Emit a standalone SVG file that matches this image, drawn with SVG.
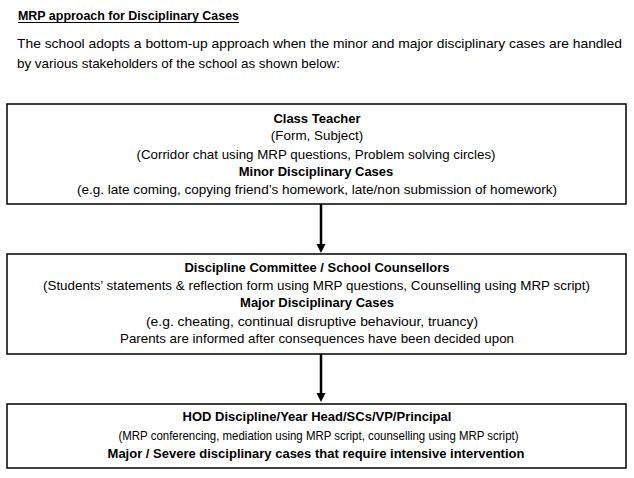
<svg xmlns="http://www.w3.org/2000/svg" width="634" height="478" viewBox="0 0 634 478">
<style>
text{font-family:"Liberation Sans",Arial,sans-serif;font-size:13.4px;fill:#000}
.b{font-weight:bold;font-size:13px}
.c{text-anchor:middle}
.s{font-size:12.2px}
.box{fill:#fff;stroke:#000;stroke-width:1.5}
.conn{stroke:#000;stroke-width:2.5;fill:none}
.head{fill:#000}
</style>
<rect width="634" height="478" fill="#fff"/>
<g id="header">
<text x="18" y="20" class="b" textLength="221" lengthAdjust="spacingAndGlyphs">MRP approach for Disciplinary Cases</text>
<line x1="18" y1="22.5" x2="239" y2="22.5" stroke="#000" stroke-width="1.2"/>
<text x="17" y="48" textLength="605" lengthAdjust="spacingAndGlyphs">The school adopts a bottom-up approach when the minor and major disciplinary cases are handled</text>
<text x="17" y="68" textLength="323" lengthAdjust="spacingAndGlyphs">by various stakeholders of the school as shown below:</text>
</g>
<g id="connectors">
<line class="conn" x1="321" y1="204" x2="321" y2="245"/>
<polygon class="head" points="316.5,244 325.5,244 321,253"/>
<line class="conn" x1="321" y1="354" x2="321" y2="394"/>
<polygon class="head" points="316.5,393 325.5,393 321,402"/>
</g>
<g id="node-class-teacher">
<rect class="box" x="7" y="104" width="619" height="100"/>
<text x="317" y="123" class="b c">Class Teacher</text>
<text x="317" y="140" class="c">(Form, Subject)</text>
<text x="316" y="159" class="c" textLength="359" lengthAdjust="spacingAndGlyphs">(Corridor chat using MRP questions, Problem solving circles)</text>
<text x="316" y="176" class="b c">Minor Disciplinary Cases</text>
<text x="317" y="194" class="c" textLength="480" lengthAdjust="spacingAndGlyphs">(e.g. late coming, copying friend’s homework, late/non submission of homework)</text>
</g>
<g id="node-discipline-committee">
<rect class="box" x="7" y="254" width="619" height="100"/>
<text x="317" y="272" class="b c">Discipline Committee / School Counsellors</text>
<text x="316.5" y="290" class="c" textLength="547" lengthAdjust="spacingAndGlyphs">(Students’ statements &amp; reflection form using MRP questions, Counselling using MRP script)</text>
<text x="317" y="307" class="b c">Major Disciplinary Cases</text>
<text x="312" y="326" class="c" textLength="332" lengthAdjust="spacingAndGlyphs">(e.g. cheating, continual disruptive behaviour, truancy)</text>
<text x="317" y="343" class="c" textLength="394" lengthAdjust="spacingAndGlyphs">Parents are informed after consequences have been decided upon</text>
</g>
<g id="node-hod">
<rect class="box" x="7" y="404" width="619" height="64"/>
<text x="317" y="421" class="b c">HOD Discipline/Year Head/SCs/VP/Principal</text>
<text x="318.5" y="440" class="c s" textLength="400" lengthAdjust="spacingAndGlyphs">(MRP conferencing, mediation using MRP script, counselling using MRP script)</text>
<text x="316" y="458" class="b c">Major / Severe disciplinary cases that require intensive intervention</text>
</g>
</svg>
